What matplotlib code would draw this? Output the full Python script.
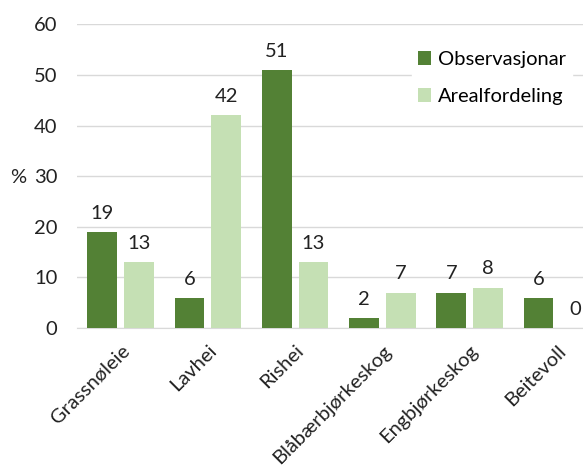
import numpy as np
import matplotlib.pyplot as plt

plt.rcParams['font.family'] = ['Lato', 'DejaVu Sans']

# data
kategoriar = ['Grassnøleie', 'Lavhei', 'Rishei', 'Blåbærbjørkeskog', 'Engbjørkeskog', 'Beitevoll']
observasjonar = [19, 6, 51, 2, 7, 6]
arealfordeling = [13, 42, 13, 7, 8, 0]

mork = '#538135'
lys = '#C5E0B4'

fig = plt.figure(figsize=(5.83, 4.66), dpi=100)
ax = fig.add_axes([0.132, 0.296, 0.898, 0.652])

x = np.arange(len(kategoriar))
b = 0.34
off = 0.21
s1 = ax.bar(x - off, observasjonar, b, color=mork, label='Observasjonar', zorder=3)
s2 = ax.bar(x + off, arealfordeling, b, color=lys, label='Arealfordeling', zorder=3)

for rects, vals in [(s1, observasjonar), (s2, arealfordeling)]:
    for r, v in zip(rects, vals):
        ax.text(r.get_x() + r.get_width() / 2, v + 2, str(v), ha='center', va='bottom',
                fontsize=14.5, color='#222222')

ax.set_xlim(-0.5, len(kategoriar) - 0.5)
ax.set_ylim(0, 60)
ax.set_yticks(range(0, 61, 10))
ax.yaxis.grid(True, color='#d9d9d9', linewidth=1, zorder=0)
ax.set_axisbelow(True)
for sp in ['top', 'right', 'left']:
    ax.spines[sp].set_visible(False)
ax.spines['bottom'].set_color('#d9d9d9')
ax.tick_params(length=0, labelsize=14.5, colors='#222222')
ax.tick_params(axis='y', pad=14)
ax.tick_params(axis='x', pad=10)
ax.set_xticks(x)
ax.set_xticklabels(kategoriar, rotation=45, ha='right', rotation_mode='anchor')

fig.text(0.018, 0.62, '%', fontsize=14.5, color='#222222', va='center')

leg = ax.legend(loc='upper left', bbox_to_anchor=(0.62, 0.965), frameon=True, fontsize=14.5,
                handlelength=0.65, handleheight=0.65, handletextpad=0.35, labelspacing=1.0,
                borderpad=0.3)
leg.get_frame().set_edgecolor('white')
leg.get_frame().set_facecolor('white')
leg.get_frame().set_alpha(1)
leg.get_frame().set_boxstyle('square', pad=0)

fig.savefig('out.png', dpi=100)
